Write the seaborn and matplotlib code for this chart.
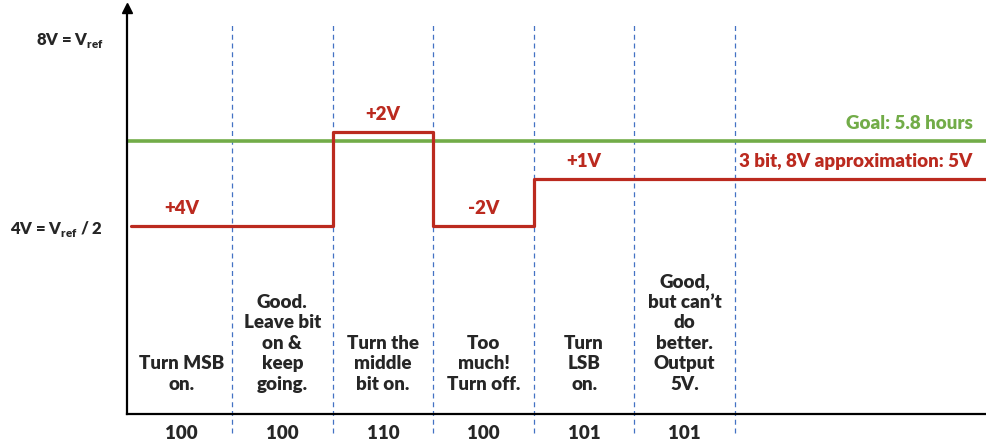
import numpy as np
import pandas as pd
import matplotlib
matplotlib.use('Agg')
import matplotlib.pyplot as plt
import seaborn as sns

# step boundaries (in column units) and the DAC output voltage in each step
step_x = [0, 2, 3, 4, 8.5]
step_v = [4, 6, 4, 5, 5]
goal_v = 5.8

# what each column says
col_text = ['Turn MSB\non.', 'Good.\nLeave bit\non &\nkeep\ngoing.', 'Turn the\nmiddle\nbit on.',
            'Too\nmuch!\nTurn off.', 'Turn\nLSB\non.', 'Good,\nbut can\u2019t\ndo\nbetter.\nOutput\n5V.']
col_codes = ['100', '100', '110', '100', '101', '101']
col_edges = [1, 2, 3, 4, 5, 6]

# change labels over each level
delta_labels = ['+4V', '+2V', '-2V', '+1V']
delta_x = [0.5, 2.5, 3.5, 4.5]
delta_v = [4, 6, 4, 5]

ytick_vals = [8, 4]
ytick_labels = [r'8V = V$_{\mathbf{ref}}$', r'4V = V$_{\mathbf{ref}}$ / 2']

red = '#BB2A1F'
green = '#72AC48'
blue = '#4472C4'

sns.set_style('white')
plt.rcParams['font.family'] = ['Lato', 'DejaVu Sans']
plt.rcParams['font.weight'] = 'heavy'
plt.rcParams['mathtext.fontset'] = 'custom'
plt.rcParams['mathtext.bf'] = 'Lato:heavy'
plt.rcParams['mathtext.rm'] = 'Lato:heavy'

fs = 13.5
wt = 'heavy'

fig = plt.figure(figsize=(9.87, 4.46), dpi=100)
ax = fig.add_axes([127 / 987, 32 / 446, 1 - 127 / 987, 406 / 446])

df = pd.DataFrame({'x': step_x, 'v': step_v})
sns.lineplot(data=df, x='x', y='v', drawstyle='steps-post', color=red, lw=2.3, ax=ax, sort=False)
ax.axhline(goal_v, color=green, lw=2.6, zorder=1)

ax.vlines(col_edges, -0.4, 8.34, colors=blue, linestyles=(0, (4, 3)), lw=0.9, clip_on=False, zorder=0)

ax.set_xlim(-0.044, 8.505)
ax.set_ylim(0, 8.64)

for lbl, x, v in zip(delta_labels, delta_x, delta_v):
    ax.text(x, v + 0.2, lbl, color=red, ha='center', va='bottom', fontsize=fs, fontweight=wt)

ax.text(8.36, goal_v + 0.2, 'Goal: 5.8 hours', color=green, ha='right', va='bottom', fontsize=fs, fontweight=wt)
ax.text(8.36, 5 + 0.2, '3 bit, 8V approximation: 5V', color=red, ha='right', va='bottom', fontsize=fs, fontweight=wt)

for i, t in enumerate(col_text):
    ax.text(i + 0.5, 0.45, t, ha='center', va='bottom', fontsize=fs, fontweight=wt, linespacing=1.25)

ax.set_xticks([i + 0.5 for i in range(len(col_codes))])
ax.set_xticklabels(col_codes, fontsize=fs, fontweight=wt)
ax.set_yticks(ytick_vals)
ax.set_yticklabels(ytick_labels, fontsize=12, fontweight=wt)
ax.tick_params(axis='x', length=0, pad=8)
ax.tick_params(axis='y', length=0, pad=17)
ax.set_xlabel('')
ax.set_ylabel('')

for s in ['top', 'right']:
    ax.spines[s].set_visible(False)
for s in ['left', 'bottom']:
    ax.spines[s].set_linewidth(1.6)
    ax.spines[s].set_color('black')

# arrow head on the y axis
ax.plot(0, 1, marker='^', color='black', ms=7, transform=ax.transAxes, clip_on=False)

fig.savefig('out.png', dpi=100)
